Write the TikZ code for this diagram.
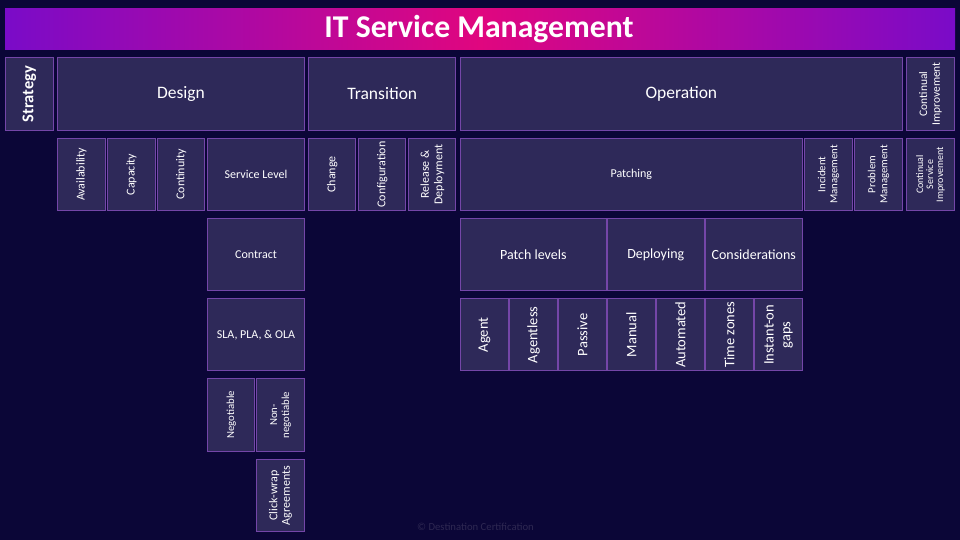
\documentclass[tikz,border=0pt]{standalone}
\usepackage{fontspec}
\setmainfont{Carlito}
\definecolor{bg}{HTML}{0B0637}
\definecolor{boxfill}{HTML}{2E2959}
\definecolor{boxline}{HTML}{7446A8}
\definecolor{gpurple}{HTML}{7A0BC8}
\definecolor{gpink}{HTML}{E0067F}
\definecolor{foot}{HTML}{2E2852}
\tikzset{
  box/.style={draw=boxline, fill=boxfill, line width=1pt, text=white, inner sep=0pt, outer sep=0pt, align=center},
  small/.style={font=\fontsize{12}{13.5}\selectfont},
  big/.style={font=\fontsize{17.5}{19}\selectfont},
  mid/.style={font=\fontsize{14}{16.7}\selectfont},
  rowfour/.style={font=\fontsize{14.5}{16.7}\selectfont},
  tiny/.style={font=\fontsize{10.8}{12}\selectfont},
  ciny/.style={font=\fontsize{11.5}{12.7}\selectfont},
  csiny/.style={font=\fontsize{10}{10}\selectfont},
}
% horizontal text box: options, name, x1, y1, x2, y2, text
\newcommand\hbx[7]{\node[box,#1,minimum width={#5-#3},minimum height={#6-#4}] (#2) at ({(#3+#5)/2},{(#4+#6)/2}) {#7};}
% vertical (rotated) text box
\newcommand\vbx[7]{\node[box,#1,rotate=90,minimum width={#6-#4},minimum height={#5-#3}] (#2) at ({(#3+#5)/2},{(#4+#6)/2}) {#7};}
\begin{document}
\begin{tikzpicture}[x=1pt,y=-1pt]
\fill[bg] (0,0) rectangle (960,540);
\useasboundingbox (0,0) rectangle (960,540);
% title bar
\shade[left color=gpurple, right color=gpurple, middle color=gpink] (5,8.3) rectangle (955,50);
\node[text=white, font=\fontsize{31.7}{33}\selectfont\bfseries, inner sep=0pt] (title) at (479,29.5) {IT Service Management};
% row 1
\vbx{font=\fontsize{16.5}{18}\selectfont\bfseries}{strategy}{5.5}{57.8}{53.2}{130.2}{Strategy}
\hbx{big}{design}{57.8}{57.8}{304.2}{130.2}{Design}
\hbx{big}{transition}{308.8}{57.8}{455.8}{130.2}{Transition}
\hbx{big}{operation}{460.5}{57.8}{902.2}{130.2}{Operation}
\vbx{ciny}{ci}{906.5}{57.8}{954.2}{130.2}{Continual\\Improvement}
% row 2
\vbx{small}{avail}{57.8}{138.5}{105.2}{210.5}{Availability}
\vbx{small}{capacity}{107.8}{138.5}{155.2}{210.5}{Capacity}
\vbx{small}{continuity}{157.8}{138.5}{204.8}{210.5}{Continuity}
\hbx{small}{servicelevel}{207.8}{138.5}{304.2}{210.5}{Service Level}
\vbx{small}{change}{308.8}{138.5}{355.8}{210.5}{Change}
\vbx{small}{config}{358.8}{138.5}{405.8}{210.5}{Configuration}
\vbx{small}{release}{408.8}{138.5}{455.8}{210.5}{Release \&\\Deployment}
\hbx{small}{patching}{460.5}{138.5}{802.2}{210.5}{Patching}
\vbx{tiny}{incident}{804.8}{138.5}{852.2}{210.5}{Incident\\Management}
\vbx{tiny}{problem}{854.8}{138.5}{902.2}{210.5}{Problem\\Management}
\vbx{csiny}{csi}{906.5}{138.5}{954.2}{210.5}{Continual\\Service\\Improvement}
% row 3
\hbx{small}{contract}{207.8}{218.8}{304.2}{290.6}{Contract}
\hbx{mid}{patchlevels}{460.5}{218.8}{606.2}{290.6}{Patch levels}
\hbx{mid}{deploying}{607.3}{218.8}{704.2}{290.6}{Deploying}
\hbx{mid}{considerations}{705.3}{218.8}{802.2}{290.6}{Considerations}
% row 4
\hbx{small}{sla}{207.8}{298.8}{304.2}{370.8}{SLA, PLA, \& OLA}
\vbx{rowfour}{agent}{460.8}{298.8}{508.2}{370.8}{Agent}
\vbx{rowfour}{agentless}{509.8}{298.8}{557.2}{370.8}{Agentless}
\vbx{rowfour}{passive}{558.8}{298.8}{606.2}{370.8}{Passive}
\vbx{rowfour}{manual}{607.8}{298.8}{655.2}{370.8}{Manual}
\vbx{rowfour}{automated}{656.8}{298.8}{704.2}{370.8}{Automated}
\vbx{rowfour}{timezones}{705.8}{298.8}{753.2}{370.8}{Time zones}
\vbx{rowfour}{instant}{754.8}{298.8}{802.2}{370.8}{Instant-on\\gaps}
% row 5
\vbx{tiny}{negotiable}{207.8}{378.8}{254.8}{451.2}{Negotiable}
\vbx{tiny}{nonneg}{256.8}{378.8}{304.2}{451.2}{Non-\\negotiable}
% row 6
\vbx{font=\fontsize{12}{12.7}\selectfont}{clickwrap}{256.8}{459.2}{304.2}{531.8}{Click-wrap\\Agreements}
% footer
\node[text=foot, font=\fontsize{10.7}{11}\selectfont, inner sep=0pt] (footer) at (475.5,527) {\textcopyright{} Destination Certification};
\end{tikzpicture}
\end{document}
